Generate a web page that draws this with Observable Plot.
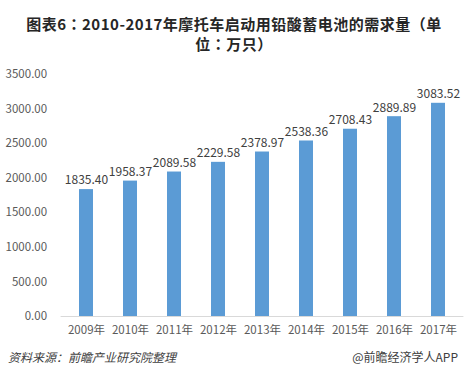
<!DOCTYPE html>
<html><head><meta charset="utf-8">
<script src="https://cdn.jsdelivr.net/npm/d3@7"></script>
<script src="https://cdn.jsdelivr.net/npm/@observablehq/plot@0.6"></script>
<style>
body{margin:0;background:#fff;width:468px;height:382px;overflow:hidden;font-family:"Noto Sans CJK SC","Noto Sans",sans-serif;}
#title{padding-top:14px;text-align:center;font-family:"Noto Sans CJK TC","Noto Sans CJK SC",sans-serif;font-size:15px;letter-spacing:0.5px;font-weight:bold;line-height:20px;color:#262626;}
#caption{display:flex;justify-content:space-between;padding:0 10px 0 8px;font-size:12px;line-height:26px;color:#404040;}
#caption .l{font-style:italic;}
</style></head>
<body>
<div id="title">图表6：2010-2017年摩托车启动用铅酸蓄电池的需求量（单<br>位：万只）</div>
<div id="chart"></div>
<div id="caption"><span class="l">资料来源：前瞻产业研究院整理</span><span class="r">@前瞻经济学人APP</span></div>
<script>
const years = ["2009年","2010年","2011年","2012年","2013年","2014年","2015年","2016年","2017年"];
const values = [1835.40,1958.37,2089.58,2229.58,2378.97,2538.36,2708.43,2889.89,3083.52];
const yTicks = [0,500,1000,1500,2000,2500,3000,3500];
const data = years.map((y,i)=>({year:y,value:values[i]}));
const chart = Plot.plot({
  width:468,height:290,
  marginTop:20,marginBottom:28,marginLeft:60.6,marginRight:4.6,
  style:{fontFamily:"'Noto Sans CJK SC','Noto Sans',sans-serif",fontSize:"11.5px",color:"#595959",background:"#fff"},
  x:{domain:years,paddingInner:0.69,paddingOuter:0.345,label:null,tickSize:0,tickPadding:9},
  y:{domain:[0,3500],ticks:yTicks,tickFormat:d3.format(".2f"),label:null,tickSize:0,tickPadding:14},
  marks:[
    Plot.barY(data,{x:"year",y:"value",fill:"#5b9bd5"}),
    Plot.ruleY([0],{stroke:"#d9d9d9"}),
    Plot.text(data,{x:"year",y:"value",text:d=>d.value.toFixed(2),dy:-9,fontSize:12,fill:"#404040"})
  ]
});
document.getElementById("chart").appendChild(chart);
</script>
</body></html>
